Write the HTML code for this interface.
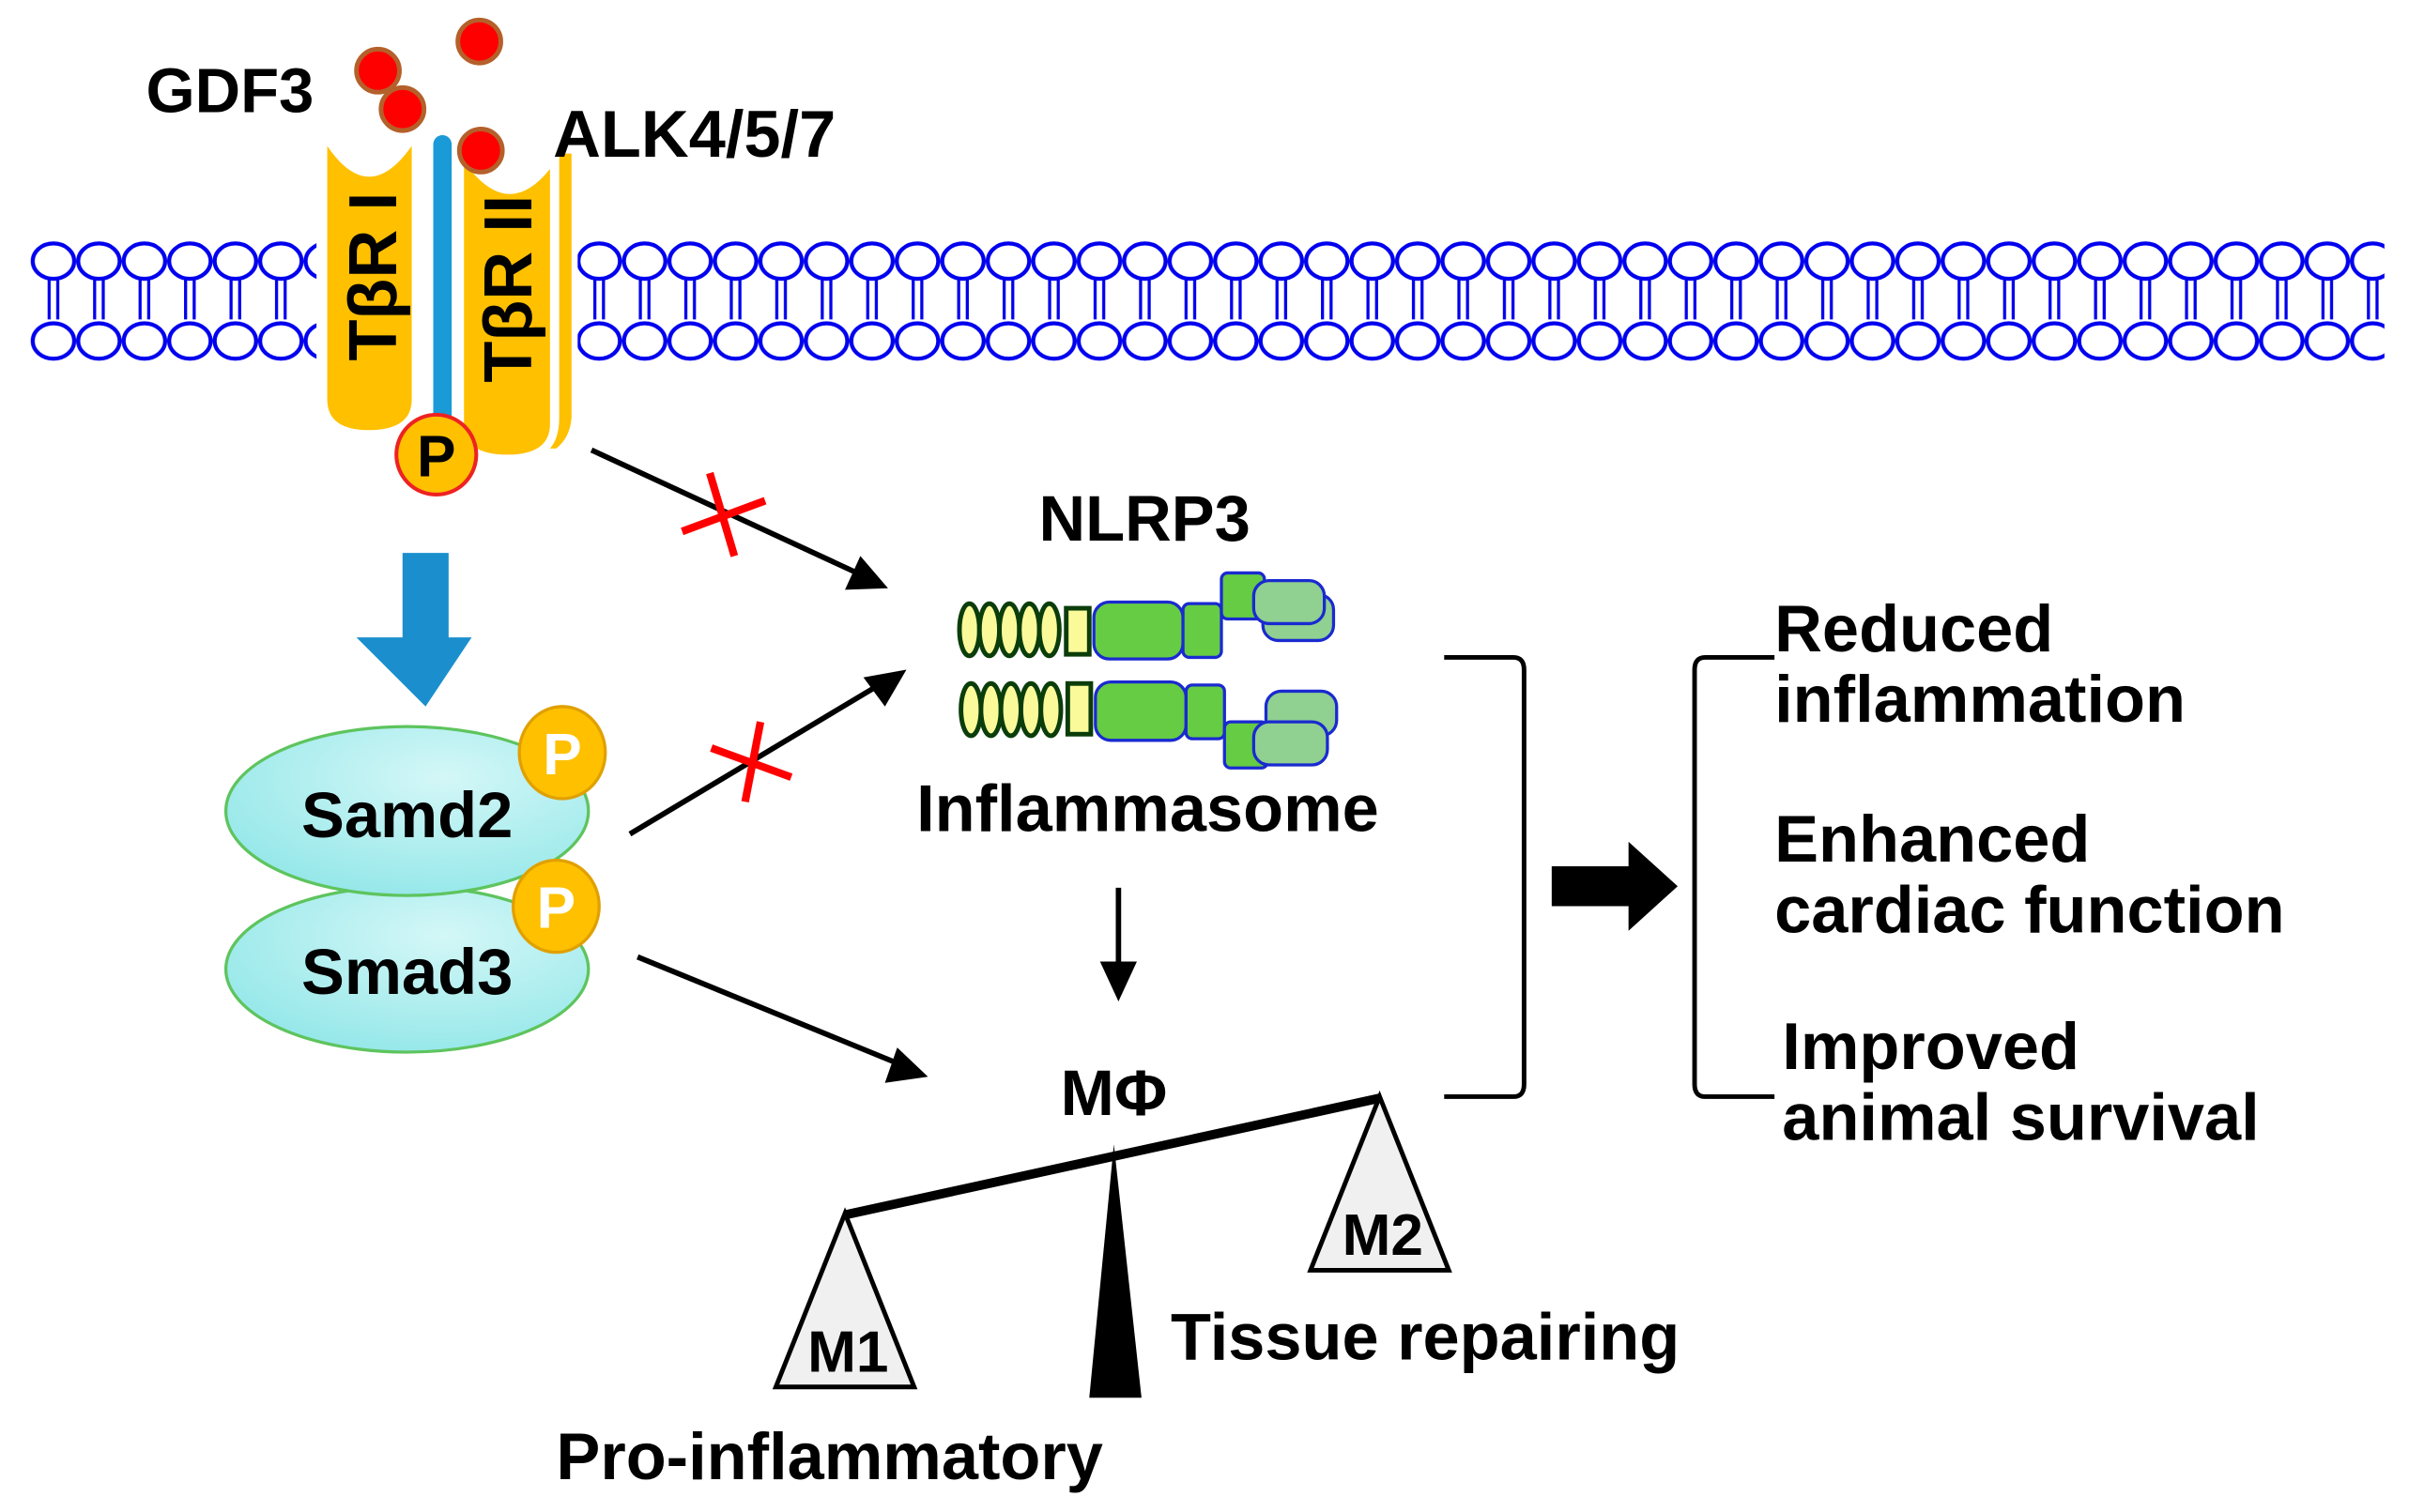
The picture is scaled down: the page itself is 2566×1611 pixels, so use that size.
<!DOCTYPE html>
<html><head><meta charset="utf-8"><style>
html,body{margin:0;padding:0;background:#fff;}
svg{display:block;}
text{font-family:"Liberation Sans",Arial,sans-serif;font-weight:bold;fill:#000;}
</style></head><body>
<svg width="2566" height="1611" viewBox="0 0 1568 984.4" xmlns="http://www.w3.org/2000/svg">
<defs>
<pattern id="mem" x="20" y="150" width="29.6" height="90" patternUnits="userSpaceOnUse">
<ellipse cx="14.8" cy="20" rx="13.5" ry="11.5" fill="#fff" stroke="#0000ee" stroke-width="2.6"/>
<ellipse cx="14.8" cy="72" rx="13.5" ry="11.5" fill="#fff" stroke="#0000ee" stroke-width="2.6"/>
<path d="M12 31 V58 M17.6 31 V58" stroke="#0000ee" stroke-width="2" fill="none"/>
</pattern>
<radialGradient id="sm" cx="0.6" cy="0.3" r="0.8"><stop offset="0" stop-color="#d4f7f7"/><stop offset="1" stop-color="#8fe6e8"/></radialGradient>
</defs>
<rect x="20" y="150" width="186" height="90" fill="url(#mem)"/>
<rect x="376" y="150" width="1176" height="90" fill="url(#mem)"/>
<path d="M213 95 Q240 135 268 95 V260 Q268 280 240 280 Q213 280 213 260 Z" fill="#FFC000"/>
<rect x="282" y="88" width="12" height="200" rx="6" fill="#1a9ad6"/>
<path d="M302 105 Q330 145 358 110 V276 Q358 296 330 296 Q302 296 302 276 Z" fill="#FFC000"/>
<path d="M364 100 V272 Q364 285 358 292 L362 292 Q371 285 372 272 V100 Z" fill="#FFC000"/>
<text transform="translate(258,180) rotate(-90)" text-anchor="middle" font-size="44">TβR I</text>
<text transform="translate(346,188) rotate(-90)" text-anchor="middle" font-size="44">TβR II</text>
<circle cx="284" cy="296" r="26" fill="#FFC000" stroke="#ee2222" stroke-width="2.5"/>
<text x="284" y="310" text-anchor="middle" font-size="38">P</text>
<g fill="#ff0000" stroke="#b5602a" stroke-width="3">
<circle cx="246" cy="46" r="14"/><circle cx="312" cy="27" r="14"/>
<circle cx="262" cy="71" r="14"/><circle cx="313" cy="98" r="14"/>
</g>
<text x="95" y="73" font-size="41">GDF3</text>
<text x="360" y="102" font-size="43">ALK4/5/7</text>
<g stroke="#000" stroke-width="3.5">
<line x1="385" y1="293" x2="560" y2="374"/>
<line x1="410" y1="543" x2="572" y2="446"/>
<line x1="415" y1="623" x2="586" y2="693"/>
<line x1="728" y1="578" x2="728" y2="630"/>
</g>
<polygon points="578,383 550,384 560,362" fill="#000"/>
<polygon points="590,436 576,460 562,441" fill="#000"/>
<polygon points="604,701 576,705 584,682" fill="#000"/>
<polygon points="728,652 716,626 740,626" fill="#000"/>
<g stroke="#ff0000" stroke-width="5">
<line x1="462" y1="308" x2="478" y2="362"/><line x1="444" y1="346" x2="498" y2="326"/>
<line x1="495" y1="470" x2="485" y2="522"/><line x1="463" y1="487" x2="515" y2="506"/>
</g>
<polygon points="262,360 292,360 292,415 307,415 277,460 232,415 262,415" fill="#1b8fcd"/>
<ellipse cx="265" cy="631" rx="118" ry="54" fill="url(#sm)" stroke="#5ec45e" stroke-width="2"/>
<ellipse cx="265" cy="528" rx="118" ry="55" fill="url(#sm)" stroke="#5ec45e" stroke-width="2"/>
<text x="265" y="545" text-anchor="middle" font-size="42">Samd2</text>
<text x="265" y="647" text-anchor="middle" font-size="42">Smad3</text>
<ellipse cx="366" cy="490" rx="28" ry="30" fill="#FFC000" stroke="#e0a000" stroke-width="2"/>
<ellipse cx="362" cy="590" rx="28" ry="30" fill="#FFC000" stroke="#e0a000" stroke-width="2"/>
<text x="366" y="504" text-anchor="middle" font-size="38" style="fill:#fff">P</text>
<text x="362" y="604" text-anchor="middle" font-size="38" style="fill:#fff">P</text>
<text x="745" y="352" text-anchor="middle" font-size="42">NLRP3</text>
<g stroke="#0a3d0a" stroke-width="3" fill="#fafa9a">
<ellipse cx="631" cy="410" rx="6.5" ry="17"/><ellipse cx="644" cy="410" rx="6.5" ry="17"/><ellipse cx="657" cy="410" rx="6.5" ry="17"/><ellipse cx="670" cy="410" rx="6.5" ry="17"/><ellipse cx="683" cy="410" rx="6.5" ry="17"/>
<rect x="694" y="396" width="15" height="30"/>
<ellipse cx="632" cy="462" rx="6.5" ry="17"/><ellipse cx="645" cy="462" rx="6.5" ry="17"/><ellipse cx="658" cy="462" rx="6.5" ry="17"/><ellipse cx="671" cy="462" rx="6.5" ry="17"/><ellipse cx="684" cy="462" rx="6.5" ry="17"/>
<rect x="695" y="445" width="15" height="33"/>
</g>
<g stroke="#1a2ad0" stroke-width="2">
<rect x="822" y="387" width="46" height="30" rx="10" fill="#90d090"/>
<rect x="712" y="392" width="58" height="37" rx="10" fill="#66cc44"/>
<rect x="770" y="393" width="25" height="35" rx="4" fill="#66cc44"/>
<rect x="795" y="373" width="28" height="30" rx="4" fill="#66cc44"/>
<rect x="816" y="378" width="46" height="28" rx="10" fill="#90d090"/>
<rect x="824" y="450" width="46" height="29" rx="10" fill="#90d090"/>
<rect x="713" y="444" width="59" height="38" rx="10" fill="#66cc44"/>
<rect x="772" y="446" width="25" height="35" rx="4" fill="#66cc44"/>
<rect x="797" y="470" width="28" height="30" rx="4" fill="#66cc44"/>
<rect x="816" y="470" width="48" height="28" rx="10" fill="#90d090"/>
</g>
<text x="747" y="541" text-anchor="middle" font-size="43">Inflammasome</text>
<text x="725" y="726" text-anchor="middle" font-size="42">MΦ</text>
<path d="M940 428 H985 Q992 428 992 436 V706 Q992 714 985 714 H940" fill="none" stroke="#000" stroke-width="3"/>
<path d="M1155 428 H1110 Q1103 428 1103 436 V706 Q1103 714 1110 714 H1155" fill="none" stroke="#000" stroke-width="3"/>
<polygon points="1010,564 1060,564 1060,548 1092,577 1060,606 1060,590 1010,590" fill="#000"/>
<g font-size="43">
<text x="1155" y="424">Reduced</text>
<text x="1155" y="470">inflammation</text>
<text x="1155" y="561">Enhanced</text>
<text x="1155" y="607">cardiac function</text>
<text x="1160" y="696">Improved</text>
<text x="1160" y="742">animal survival</text>
</g>
<polygon points="550,790 505,903 595,903" fill="#f0f0f0" stroke="#000" stroke-width="3"/>
<polygon points="898,714 853,827 943,827" fill="#f0f0f0" stroke="#000" stroke-width="3"/>
<polygon points="725,745 709,910 743,910" fill="#000"/>
<line x1="550" y1="791" x2="898" y2="715" stroke="#000" stroke-width="6"/>
<text x="552" y="893" text-anchor="middle" font-size="38">M1</text>
<text x="900" y="817" text-anchor="middle" font-size="38">M2</text>
<text x="762" y="885" font-size="43">Tissue repairing</text>
<text x="362" y="963" font-size="43">Pro-inflammatory</text>
</svg>
</body></html>
